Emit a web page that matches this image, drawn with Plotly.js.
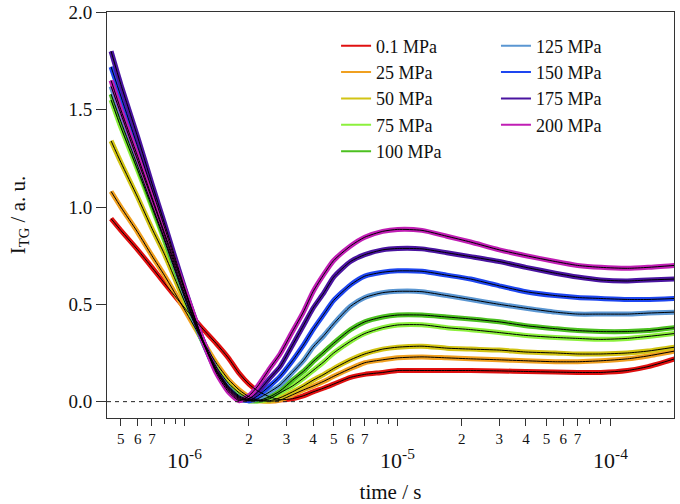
<!DOCTYPE html>
<html><head><meta charset="utf-8">
<script src="https://cdn.plot.ly/plotly-3.0.1.min.js"></script>
<style>body{margin:0;background:#fff}#chart{width:680px;height:504px}</style>
</head><body><div id="chart"></div>
<script>
// time (s)
const timeS = [4.5e-7,5e-7,6e-7,7e-7,8e-7,1e-6,1.2e-6,1.4e-6,1.6e-6,1.8e-6,2e-6,2.2e-6,2.5e-6,2.8e-6,3.2e-6,3.6e-6,4e-6,4.5e-6,5e-6,6e-6,7e-6,8.5e-6,1e-5,1.3e-5,1.7e-5,2.2e-5,3e-5,4e-5,5.5e-5,7e-5,9e-5,1.2e-4,1.5e-4,2e-4];
// I_TG (a.u.) per pressure
const v01  = [0.94,0.88,0.78,0.69,0.61,0.48,0.38,0.30,0.225,0.145,0.09,0.055,0.025,0.01,0.015,0.03,0.05,0.07,0.09,0.125,0.14,0.15,0.16,0.16,0.16,0.16,0.158,0.155,0.152,0.15,0.15,0.16,0.18,0.22];
const v25  = [1.08,1.00,0.87,0.75,0.65,0.47,0.32,0.20,0.115,0.06,0.025,0.01,0.002,0.008,0.035,0.06,0.08,0.105,0.13,0.17,0.20,0.215,0.225,0.23,0.225,0.22,0.215,0.21,0.205,0.205,0.21,0.22,0.235,0.26];
const v50  = [1.34,1.23,1.05,0.89,0.76,0.51,0.32,0.18,0.095,0.045,0.015,0.005,0.005,0.02,0.05,0.08,0.11,0.14,0.17,0.215,0.245,0.27,0.28,0.285,0.275,0.27,0.265,0.255,0.25,0.245,0.245,0.25,0.26,0.28];
const v75  = [1.55,1.41,1.19,1.00,0.83,0.53,0.32,0.17,0.08,0.03,0.01,0.005,0.015,0.045,0.08,0.12,0.16,0.205,0.25,0.31,0.35,0.38,0.394,0.395,0.38,0.37,0.355,0.34,0.33,0.325,0.32,0.325,0.335,0.35];
const v100 = [1.58,1.44,1.21,1.01,0.84,0.54,0.32,0.165,0.075,0.025,0.005,0.005,0.025,0.055,0.11,0.155,0.205,0.255,0.30,0.37,0.41,0.435,0.445,0.445,0.435,0.425,0.41,0.39,0.375,0.365,0.36,0.36,0.365,0.38];
const v125 = [1.62,1.48,1.24,1.04,0.86,0.55,0.32,0.16,0.07,0.02,0.005,0.015,0.05,0.085,0.15,0.21,0.28,0.34,0.40,0.49,0.535,0.56,0.567,0.565,0.545,0.525,0.50,0.48,0.46,0.45,0.45,0.45,0.455,0.46];
const v150 = [1.72,1.57,1.31,1.09,0.90,0.57,0.33,0.16,0.065,0.015,0.005,0.03,0.08,0.13,0.21,0.29,0.37,0.45,0.52,0.60,0.645,0.665,0.672,0.67,0.65,0.63,0.595,0.565,0.545,0.535,0.53,0.525,0.525,0.53];
const v175 = [1.80,1.63,1.36,1.12,0.92,0.58,0.33,0.16,0.06,0.01,0.015,0.05,0.12,0.18,0.29,0.39,0.48,0.56,0.64,0.72,0.755,0.78,0.787,0.785,0.765,0.745,0.72,0.69,0.66,0.64,0.625,0.62,0.625,0.63];
const v200 = [1.65,1.50,1.26,1.05,0.87,0.57,0.33,0.15,0.05,0.005,0.03,0.08,0.17,0.245,0.36,0.46,0.565,0.655,0.725,0.80,0.845,0.875,0.885,0.88,0.85,0.82,0.78,0.75,0.72,0.70,0.69,0.685,0.69,0.70];

const seriesLabels = ['0.1 MPa','25 MPa','50 MPa','75 MPa','100 MPa','125 MPa','150 MPa','175 MPa','200 MPa'];
const seriesValues = [v01,v25,v50,v75,v100,v125,v150,v175,v200];

// x-axis tick labels
const majorTickVals = [5e-7,6e-7,7e-7,1e-6,2e-6,3e-6,4e-6,5e-6,6e-6,7e-6,1e-5,2e-5,3e-5,4e-5,5e-5,6e-5,7e-5,1e-4,2e-4];
const majorTickText = ['5','6','7','','2','3','4','5','6','7','','2','3','4','5','6','7','','2'];
const minorTickVals = [8e-7,9e-7,8e-6,9e-6,8e-5,9e-5];
const decadeExp = [-6,-5,-4];
const yTickVals = [0,0.5,1.0,1.5,2.0];

const colors = ['#e01010','#f0a020','#d2c414','#8cf03c','#4cc020','#5a96d2','#1e46f0','#4a14a0','#c01eb4'];
const serif = 'Liberation Serif';

const traces = [];
seriesValues.forEach((v,i)=>{
  traces.push({x:timeS,y:v,type:'scatter',mode:'lines',name:seriesLabels[i],
    line:{color:colors[i],width:2,shape:'spline',smoothing:0.6},legend:i<5?'legend':'legend2',hoverinfo:'skip'});
});
seriesValues.forEach((v,i)=>{
  traces.push({x:timeS,y:v,type:'scatter',mode:'lines',showlegend:false,
    line:{color:colors[i],width:5,shape:'spline',smoothing:0.6},hoverinfo:'skip'});
});
seriesValues.forEach((v,i)=>{
  traces.push({x:timeS,y:v,type:'scatter',mode:'lines',showlegend:false,
    line:{color:'#000',width:1,shape:'spline',smoothing:0.6},hoverinfo:'skip'});
});

const axColor = '#333';
const layout = {
  width:680,height:504,
  margin:{l:107,r:6,t:12,b:86},
  paper_bgcolor:'#fff',plot_bgcolor:'#fff',
  font:{family:serif,color:'#111'},
  xaxis:{type:'log',range:[-6.366,-3.702],showline:true,mirror:true,linecolor:axColor,linewidth:1,
    ticks:'outside',ticklen:7,tickcolor:axColor,tickmode:'array',tickvals:majorTickVals,ticktext:majorTickText,
    tickfont:{family:serif,size:15},showgrid:false,zeroline:false,ticklabeloverflow:'allow',
    minor:{tickmode:'array',tickvals:minorTickVals,ticks:'outside',ticklen:5,tickcolor:axColor,showgrid:false},
    title:{text:'time / s',font:{family:serif,size:21},standoff:44}},
  yaxis:{range:[-0.084,2.002],showline:true,mirror:true,linecolor:axColor,linewidth:1,
    ticks:'outside',ticklen:10,tickcolor:axColor,tickmode:'array',tickvals:yTickVals,tickformat:'.1f',
    tickfont:{family:serif,size:19},showgrid:false,zeroline:false,ticklabeloverflow:'allow',
    title:{text:'I<sub>TG</sub> / a. u.',font:{family:serif,size:21},standoff:37}},
  shapes:[{type:'line',xref:'paper',x0:0,x1:1,yref:'y',y0:0,y1:0,line:{color:'#222',width:1,dash:'4px,4px'}}],
  annotations:decadeExp.map(e=>({xref:'x',x:e,yref:'paper',y:0,yanchor:'top',xanchor:'center',yshift:-25,
    showarrow:false,text:'10<sup>'+e+'</sup>',font:{family:serif,size:22}})),
  legend:{x:0.404,y:0.962,xanchor:'left',yanchor:'top',bgcolor:'rgba(0,0,0,0)',font:{family:serif,size:18},tracegroupgap:0},
  legend2:{x:0.686,y:0.962,xanchor:'left',yanchor:'top',bgcolor:'rgba(0,0,0,0)',font:{family:serif,size:18},tracegroupgap:0}
};
Plotly.newPlot('chart',traces,layout,{displayModeBar:false,staticPlot:true});
</script>
</body></html>
